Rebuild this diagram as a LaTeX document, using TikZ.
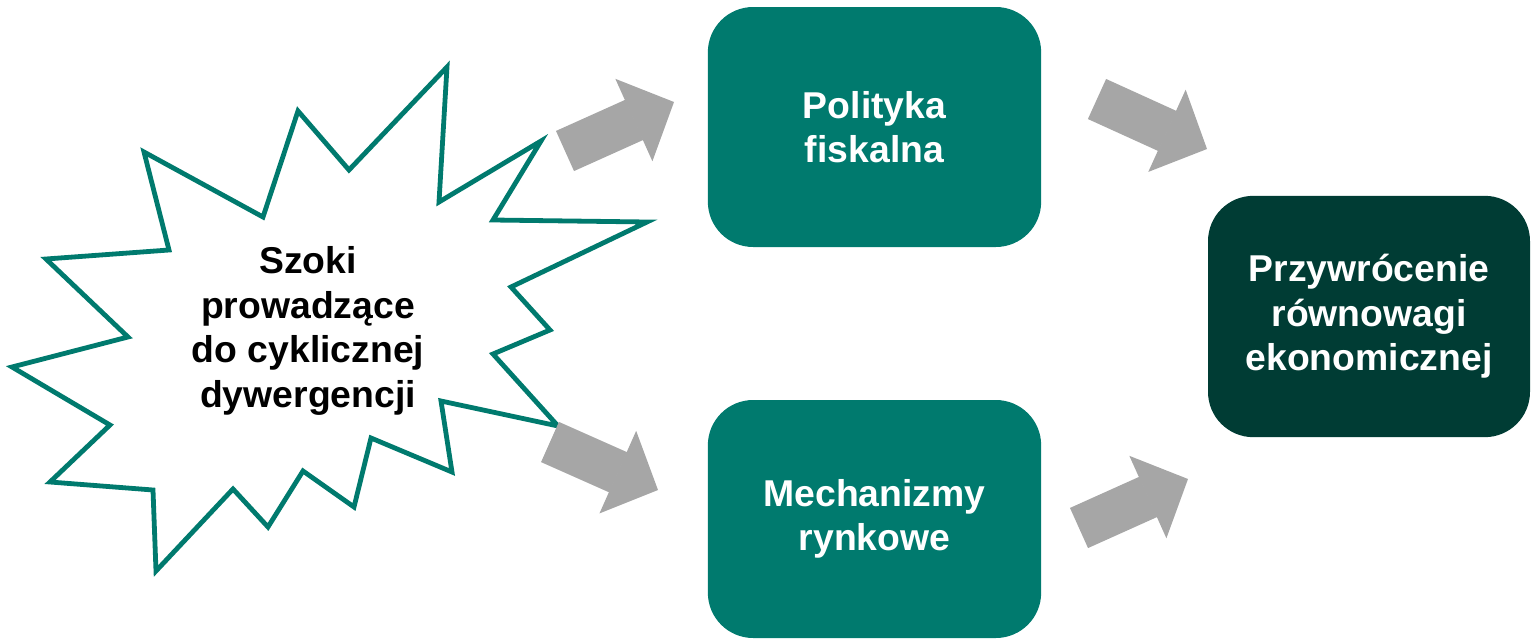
\documentclass[tikz,border=0pt]{standalone}
\usepackage{fontspec}
\setmainfont{Liberation Sans}
\usetikzlibrary{arrows.meta}
\definecolor{morski}{RGB}{0,122,110}
\definecolor{ciemny}{RGB}{0,60,52}
\definecolor{szary}{RGB}{166,166,166}
\tikzset{
  napis/.style={align=center, font=\bfseries\fontsize{28}{33.5}\selectfont},
  pudlo/.style={napis, rounded corners=34pt, text=white, minimum width=250pt, minimum height=180pt},
  strzalka/.style={szary, line width=33pt, -{Triangle[length=33pt, width=67.5pt, line width=1.5pt]}}
}
\begin{document}
\begin{tikzpicture}[x=0.75pt,y=-0.75pt]
\useasboundingbox (0,0) rectangle (1531,639);
\draw [morski, line width=3.6pt, fill=white] (447,67) -- (439,202) -- (541,141) -- (493,220) -- (647,222) -- (511,287) -- (550,330) -- (493,354) -- (558,426) -- (441,401) -- (452,472) -- (371,438) -- (354,507) -- (303,471) -- (268,527) -- (233,489) -- (156,571) -- (153,490) -- (50,482) -- (110,425) -- (12,367) -- (128,337) -- (46,259) -- (169,250) -- (144,152) -- (263,217) -- (298,111) -- (349,170) -- cycle;
\node (szoki) [napis] at (308,331) {Szoki\\prowadzące\\do cyklicznej\\dywergencji};
\node (pol) [pudlo, fill=morski] at (874.5,127) {Polityka\\fiskalna};
\node (mech) [pudlo, fill=morski, minimum height=178.5pt] at (874.5,519) {Mechanizmy\\rynkowe};
\node (rown) [pudlo, fill=ciemny, minimum width=241.5pt, minimum height=181pt] at (1369,316.5) {Przywrócenie\\równowagi\\ekonomicznej};
\coordinate (s1) at (565,151);
\coordinate (k1) at (674,102);
\coordinate (s2) at (1097,99);
\coordinate (k2) at (1207,149);
\coordinate (s3) at (550,442);
\coordinate (k3) at (658,490);
\coordinate (s4) at (1079,528);
\coordinate (k4) at (1188,479);
\draw [strzalka] (s1) -- (k1);
\draw [strzalka] (s2) -- (k2);
\draw [strzalka] (s3) -- (k3);
\draw [strzalka] (s4) -- (k4);
\end{tikzpicture}
\end{document}
